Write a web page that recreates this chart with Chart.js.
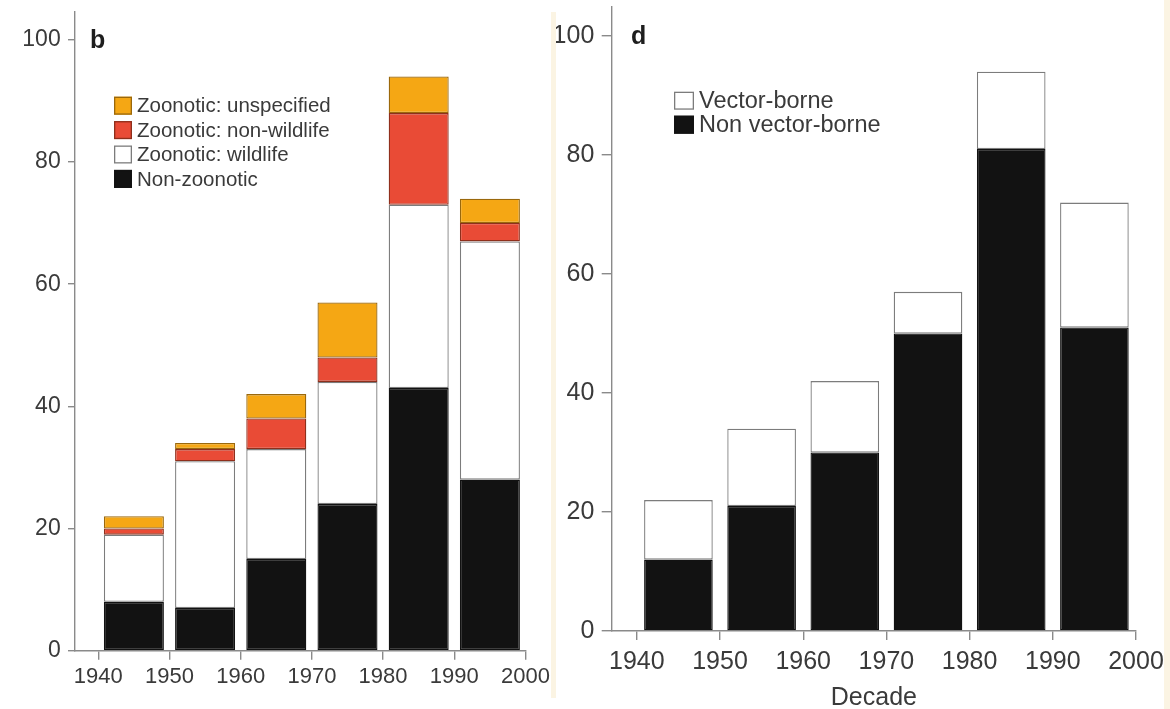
<!DOCTYPE html>
<html>
<head>
<meta charset="utf-8">
<title>Emerging infectious disease events by decade</title>
<script src="https://cdn.jsdelivr.net/npm/chart.js@4.4.1/dist/chart.umd.min.js"></script>
<style>
  html, body { margin: 0; padding: 0; background: #fff; }
  #wrap { position: relative; width: 1170px; height: 709px; overflow: hidden; background: #fff; }
  #panelB { position: absolute; left: 0; top: 0; }
  #panelD { position: absolute; left: 555px; top: 0; }
  .edge { position: absolute; background: #fbf4e3; }
</style>
</head>
<body>
<div id="wrap">
  <canvas id="panelB" width="555" height="709"></canvas>
  <canvas id="panelD" width="615" height="709"></canvas>
  <div class="edge" style="left:551px;top:12px;width:5px;height:686px"></div>
  <div class="edge" style="left:1164px;top:0;width:6px;height:709px"></div>
</div>
<script>
// Decades (bar starts) and axis tick values
const decades = [1940, 1950, 1960, 1970, 1980, 1990];
const yearTicks = [1940, 1950, 1960, 1970, 1980, 1990, 2000];
const countTicks = [0, 20, 40, 60, 80, 100];

// Panel b: events by zoonotic status
const nonZoonotic = [8, 7, 15, 24, 43, 28];
const zoonoticWildlife = [11, 24, 18, 20, 30, 39];
const zoonoticNonWildlife = [1, 2, 5, 4, 15, 3];
const zoonoticUnspecified = [2, 1, 4, 9, 6, 4];

// Panel d: events by transmission mode
const nonVectorBorne = [12, 21, 30, 50, 81, 51];
const vectorBorne = [10, 13, 12, 7, 13, 21];

const SANS = "'Liberation Sans', Arial, Helvetica, sans-serif";
const AXIS = '#8a8a8a';
const TEXT = '#3a3a3a';

// Each bar sits in the middle of its decade on a linear year axis
function toPoints(values) {
  return decades.map((d, i) => ({ x: d + 5, y: values[i] }));
}

function series(label, values, fill, stroke) {
  return {
    label,
    data: toPoints(values),
    backgroundColor: fill,
    borderColor: stroke,
    borderWidth: 1.3,
    borderSkipped: false
  };
}

// Draws the panel letter and the stacked-series key inside the plot
const panelKey = {
  id: 'panelKey',
  afterDraw(chart, args, o) {
    const ctx = chart.ctx;
    ctx.save();
    ctx.fillStyle = '#1e1e1e';
    ctx.textBaseline = 'alphabetic';
    ctx.textAlign = 'left';
    ctx.font = `bold ${o.letterSize}px ${SANS}`;
    ctx.fillText(o.letter, o.letterX, o.letterY);

    ctx.font = `${o.size}px ${SANS}`;
    ctx.textBaseline = 'middle';
    const items = chart.data.datasets.slice().reverse();
    items.forEach((ds, i) => {
      const y = o.y + i * o.rowGap;
      ctx.fillStyle = ds.backgroundColor;
      ctx.fillRect(o.x, y, o.boxW, o.boxH);
      ctx.strokeStyle = ds.borderColor;
      ctx.lineWidth = 1.3;
      ctx.strokeRect(o.x + 0.65, y + 0.65, o.boxW - 1.3, o.boxH - 1.3);
      ctx.fillStyle = TEXT;
      ctx.fillText(ds.label, o.x + o.boxW + o.textGap, y + o.boxH / 2 + 1);
    });
    ctx.restore();
  }
};

function makePanel(canvasId, datasets, c) {
  return new Chart(document.getElementById(canvasId), {
    type: 'bar',
    data: { datasets },
    plugins: [panelKey],
    options: {
      responsive: false,
      devicePixelRatio: 1,
      animation: false,
      events: [],
      datasets: { bar: { barPercentage: c.barPct, categoryPercentage: 1 } },
      layout: { padding: { left: 0, top: c.top, right: c.right, bottom: 0 } },
      plugins: {
        legend: { display: false },
        tooltip: { enabled: false },
        panelKey: c.key
      },
      scales: {
        x: {
          type: 'linear',
          min: c.xMin,
          max: 2000,
          offset: false,
          stacked: true,
          afterBuildTicks: s => { s.ticks = yearTicks.map(v => ({ value: v })); },
          afterFit: s => { s.height = c.xHeight; s.paddingLeft = 0; s.paddingRight = 0; },
          grid: { display: true, offset: false, drawOnChartArea: false, drawTicks: true, tickLength: 9, color: AXIS, lineWidth: 1.4 },
          border: { display: true, color: AXIS, width: 1.4 },
          ticks: {
            autoSkip: false, maxRotation: 0, color: TEXT, padding: c.xPad,
            font: { family: SANS, size: c.xSize, lineHeight: 1 },
            callback: v => String(v)
          },
          title: {
            display: !!c.xTitle, text: c.xTitle || '', color: TEXT,
            padding: { top: 0, bottom: -2 },
            font: { family: SANS, size: 25, lineHeight: 1 }
          }
        },
        y: {
          type: 'linear',
          min: 0,
          max: c.yMax,
          stacked: true,
          afterBuildTicks: s => { s.ticks = countTicks.map(v => ({ value: v })); },
          afterFit: s => { s.width = c.yWidth; s.paddingTop = 0; s.paddingBottom = 0; },
          grid: { display: true, drawOnChartArea: false, drawTicks: true, tickLength: c.yTick, color: AXIS, lineWidth: 1.4 },
          border: { display: true, color: AXIS, width: 1.4 },
          ticks: {
            color: TEXT, padding: c.yPad,
            font: { family: SANS, size: c.ySize, lineHeight: 1 }
          }
        }
      }
    }
  });
}

makePanel('panelB', [
  series('Non-zoonotic', nonZoonotic, '#121212', '#121212'),
  series('Zoonotic: wildlife', zoonoticWildlife, '#ffffff', '#7c7c7c'),
  series('Zoonotic: non-wildlife', zoonoticNonWildlife, '#e94b36', '#8e2f1c'),
  series('Zoonotic: unspecified', zoonoticUnspecified, '#f5a714', '#9a680c')
], {
  top: 11.7, right: 29.5, yWidth: 75, xHeight: 58.3, xMin: 1936.73, yMax: 104.6,
  barPct: 0.843, xPad: 6, yTick: 7, yPad: 7.3,
  xSize: 22, ySize: 23,
  key: {
    letter: 'b', letterX: 90, letterY: 48, letterSize: 25,
    x: 114, y: 96.7, boxW: 18, boxH: 18, rowGap: 24.4, textGap: 5,
    size: 20.5
  }
});

makePanel('panelD', [
  series('Non vector-borne', nonVectorBorne, '#121212', '#121212'),
  series('Vector-borne', vectorBorne, '#ffffff', '#7c7c7c')
], {
  top: 6.25, right: 34, yWidth: 56.7, xHeight: 78, xMin: 1936.98, yMax: 105,
  barPct: 0.825, xPad: 9.5, yTick: 10, yPad: 7.4,
  xSize: 25, ySize: 25, xTitle: 'Decade',
  key: {
    letter: 'd', letterX: 76, letterY: 44, letterSize: 25,
    x: 119, y: 91.7, boxW: 20, boxH: 18, rowGap: 24, textGap: 5,
    size: 23.5
  }
});
</script>
</body>
</html>
